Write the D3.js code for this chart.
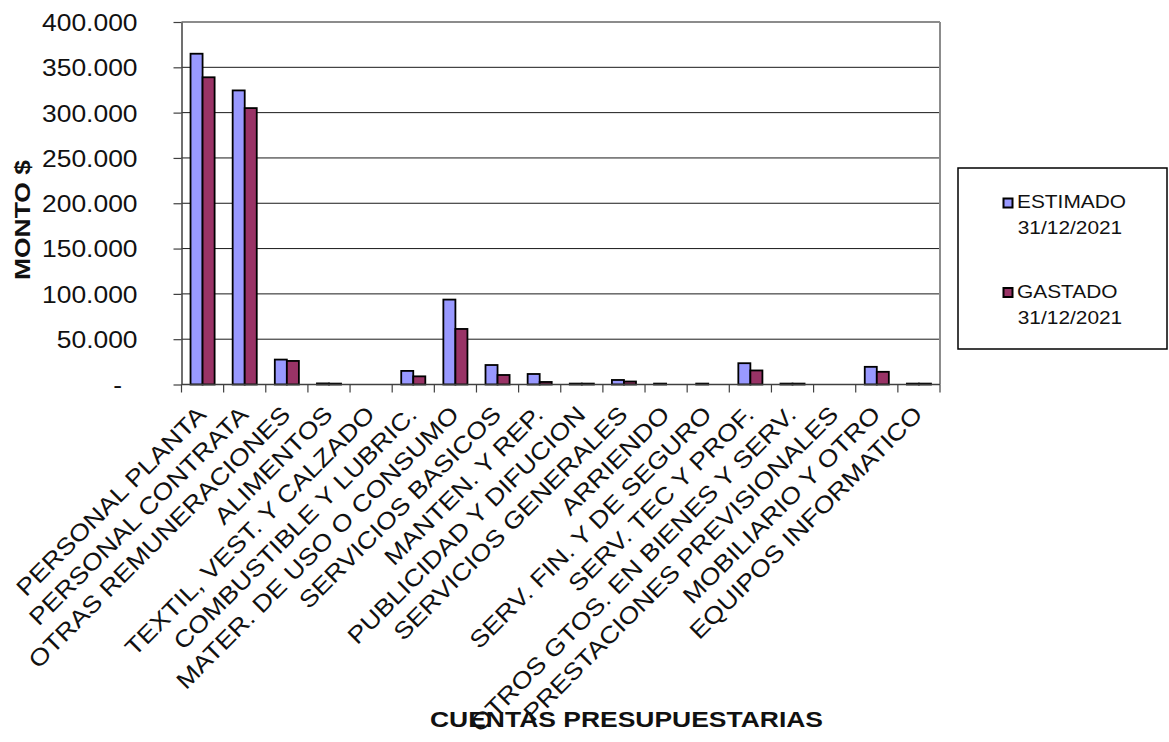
<!DOCTYPE html>
<html>
<head>
<meta charset="utf-8">
<script src="https://cdn.jsdelivr.net/npm/d3@7"></script>
<style>
  html, body { margin: 0; padding: 0; background: #ffffff; }
  svg { display: block; font-family: "Liberation Sans", Arial, sans-serif; }
</style>
</head>
<body>
<script>
// Budget accounts and amounts (pesos)
const categories = [
  "PERSONAL PLANTA",
  "PERSONAL CONTRATA",
  "OTRAS REMUNERACIONES",
  "ALIMENTOS",
  "TEXTIL, VEST. Y CALZADO",
  "COMBUSTIBLE Y LUBRIC.",
  "MATER. DE USO O CONSUMO",
  "SERVICIOS BASICOS",
  "MANTEN. Y REP.",
  "PUBLICIDAD Y DIFUCION",
  "SERVICIOS GENERALES",
  "ARRIENDO",
  "SERV. FIN. Y DE SEGURO",
  "SERV. TEC Y PROF.",
  "OTROS GTOS. EN BIENES Y SERV.",
  "PRESTACIONES PREVISIONALES",
  "MOBILIARIO Y OTRO",
  "EQUIPOS INFORMATICO"
];
const estimado = [365000, 324500, 27500, 1200, 0, 15000, 93700, 21500, 11600, 1000, 5000, 1000, 1000, 23500, 1000, 0, 19500, 1000];
const gastado  = [339000, 305000, 26000, 1000, 0, 9000, 61300, 10500, 2800, 1000, 3300, 0, 0, 15500, 1000, 0, 14000, 1000];
const seriesNames = ["ESTIMADO", "GASTADO"];
const seriesDates = ["31/12/2021", "31/12/2021"];
const seriesColors = ["#9999ff", "#993366"];
const yTicks = [0, 50000, 100000, 150000, 200000, 250000, 300000, 350000, 400000];
const yTitle = "MONTO $";
const xTitle = "CUENTAS PRESUPUESTARIAS";

const W = 1169, H = 742;
const plot = { left: 181.5, right: 940, top: 22, bottom: 384.5 };

const svg = d3.select("body").append("svg")
  .attr("width", W).attr("height", H);

svg.append("rect").attr("width", W).attr("height", H).attr("fill", "#ffffff");

const x0 = d3.scaleBand().domain(categories)
  .range([plot.left, plot.right]).paddingInner(0).paddingOuter(0);
const x1 = d3.scaleBand().domain(seriesNames)
  .range([0, x0.bandwidth()]).paddingInner(0).paddingOuter(0.75);
const y = d3.scaleLinear().domain([0, 400000]).range([plot.bottom, plot.top]);

const locale = d3.formatLocale({ decimal: ",", thousands: ".", grouping: [3], currency: ["$", ""] });
const fmt = locale.format(",");

// horizontal gridlines
svg.append("g").selectAll("line")
  .data(yTicks.filter(v => v > 0 && v < 400000))
  .join("line")
  .attr("x1", plot.left).attr("x2", plot.right)
  .attr("y1", d => y(d)).attr("y2", d => y(d))
  .attr("stroke", "#1a1a1a").attr("stroke-width", 1);

// plot area frame (top and right)
svg.append("line")
  .attr("x1", plot.left).attr("x2", plot.right)
  .attr("y1", y(400000)).attr("y2", y(400000))
  .attr("stroke", "#8c8c8c").attr("stroke-width", 2);
svg.append("line")
  .attr("x1", plot.right).attr("x2", plot.right)
  .attr("y1", plot.top).attr("y2", plot.bottom)
  .attr("stroke", "#8c8c8c").attr("stroke-width", 2);

// bars
const rows = categories.map((c, i) => ({ cat: c, vals: [estimado[i], gastado[i]] }));
const groups = svg.append("g").selectAll("g")
  .data(rows).join("g")
  .attr("transform", d => `translate(${x0(d.cat)},0)`);
groups.selectAll("rect")
  .data(d => d.vals.map((v, k) => ({ key: seriesNames[k], v, k })))
  .join("rect")
  .filter(d => d.v > 0)
  .attr("x", d => x1(d.key))
  .attr("width", x1.bandwidth())
  .attr("y", d => y(d.v))
  .attr("height", d => y(0) - y(d.v))
  .attr("fill", d => seriesColors[d.k])
  .attr("stroke", "#000000").attr("stroke-width", 1.8);

// y axis
const yAxis = svg.append("g")
  .attr("transform", `translate(${plot.left},0)`)
  .call(d3.axisLeft(y).tickValues(yTicks).tickSize(8).tickSizeOuter(0)
    .tickFormat(d => d === 0 ? "-" : fmt(d)));
yAxis.select(".domain").attr("stroke", "#404040").attr("stroke-width", 1.5);
yAxis.selectAll(".tick line").attr("stroke", "#404040").attr("stroke-width", 1.2);
yAxis.selectAll(".tick text")
  .attr("x", null).attr("dy", "0.35em")
  .attr("fill", "#111").attr("font-size", 24)
  .attr("text-anchor", "end")
  .attr("transform", d => `translate(${(d === 0 ? 122 : 137.5) - plot.left},0) scale(1.1,1)`);

// x axis line and category boundary ticks
const bounds = categories.map(c => x0(c)).concat([plot.right]);
svg.append("line")
  .attr("x1", plot.left).attr("x2", plot.right)
  .attr("y1", plot.bottom).attr("y2", plot.bottom)
  .attr("stroke", "#404040").attr("stroke-width", 1.5);
svg.append("g").selectAll("line")
  .data(bounds).join("line")
  .attr("x1", d => d).attr("x2", d => d)
  .attr("y1", plot.bottom).attr("y2", plot.bottom + 8)
  .attr("stroke", "#404040").attr("stroke-width", 1.2);

// rotated category labels
svg.append("g").selectAll("text")
  .data(categories).join("text")
  .attr("transform", d => `translate(${x0(d) + x0.bandwidth() / 2 + 5},416) rotate(-45) scale(1.15,1)`)
  .attr("text-anchor", "end")
  .attr("font-size", 23.5)
  .attr("fill", "#111")
  .text(d => d);

// axis titles
svg.append("text")
  .attr("transform", "translate(30,220) rotate(-90)")
  .attr("text-anchor", "middle")
  .attr("font-size", 21.5).attr("font-weight", "bold")
  .attr("textLength", 120).attr("lengthAdjust", "spacingAndGlyphs")
  .attr("fill", "#111")
  .text(yTitle);
svg.append("text")
  .attr("x", 626.5).attr("y", 727)
  .attr("text-anchor", "middle")
  .attr("font-size", 21.5).attr("font-weight", "bold")
  .attr("textLength", 393).attr("lengthAdjust", "spacingAndGlyphs")
  .attr("fill", "#111")
  .text(xTitle);

// legend
const legend = svg.append("g");
legend.append("rect")
  .attr("x", 958).attr("y", 168).attr("width", 209).attr("height", 181)
  .attr("fill", "#ffffff").attr("stroke", "#000000").attr("stroke-width", 1.5);
const items = legend.selectAll("g.item")
  .data(seriesNames).join("g")
  .attr("class", "item")
  .attr("transform", (d, i) => `translate(0,${i * 89.5})`);
items.append("rect")
  .attr("x", 1003.5).attr("y", 198.5).attr("width", 9).attr("height", 9)
  .attr("fill", (d, i) => seriesColors[i])
  .attr("stroke", "#000000").attr("stroke-width", 2);
items.append("text")
  .attr("transform", "translate(1017,208.3) scale(1.16,1)")
  .attr("font-size", 18).attr("fill", "#111")
  .text(d => d);
items.append("text")
  .attr("transform", "translate(1070,234) scale(1.16,1)")
  .attr("text-anchor", "middle")
  .attr("font-size", 18).attr("fill", "#111")
  .text((d, i) => seriesDates[i]);
</script>
</body>
</html>
